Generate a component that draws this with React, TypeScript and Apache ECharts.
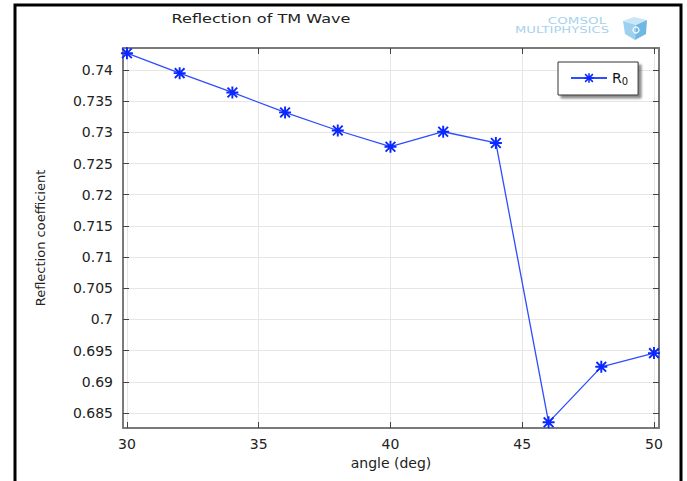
import React, { useEffect, useRef } from "react";
import * as echarts from "echarts";

const angles = [30, 32, 34, 36, 38, 40, 42, 44, 46, 48, 50];
const reflection = [0.7427, 0.7395, 0.7364, 0.7332, 0.7303, 0.7277, 0.7301, 0.7283, 0.6835, 0.6924, 0.6946];
const xTicks = [30, 35, 40, 45, 50];
const yTicks = [0.685, 0.69, 0.695, 0.7, 0.705, 0.71, 0.715, 0.72, 0.725, 0.73, 0.735, 0.74];
const seriesName = "R0";
const titleText = "Reflection of TM Wave";
const xName = "angle (deg)";
const yName = "Reflection coefficient";

const STAR =
  "path://M0 8.4H20V11.6H0Z M8.4 0H11.6V20H8.4Z M3 0.8L19.2 17L17 19.2L0.8 3Z M19.2 3L3 19.2L0.8 17L17 0.8Z";

export default function App() {
  const ref = useRef<HTMLDivElement>(null);
  useEffect(() => {
    if (!ref.current) return;
    const chart = echarts.init(ref.current, null, { renderer: "svg" });
    const font = "DejaVu Sans";
    const axisLineStyle = { color: "#7a7a7a", width: 2 };
    const tickStyle = { color: "#444", width: 1 };
    const fmt = (v: number) => String(+Number(v).toFixed(3));
    chart.setOption({
      animation: false,
      backgroundColor: "#ffffff",
      textStyle: { fontFamily: font },
      grid: { left: 123, right: 28, top: 48, bottom: 53, containLabel: false },
      legend: {
        data: [seriesName],
        left: 558,
        top: 62,
        orient: "vertical",
        itemWidth: 36,
        itemHeight: 12,
        itemGap: 0,
        padding: [9, 10, 9, 12],
        backgroundColor: "#ffffff",
        borderColor: "#333",
        borderWidth: 1,
        borderRadius: 0,
        shadowColor: "rgba(0,0,0,0.45)",
        shadowBlur: 2,
        shadowOffsetX: 3,
        shadowOffsetY: 3,
        formatter: (n: string) => "{r|" + n.charAt(0) + "}{s|" + n.slice(1) + "}",
        textStyle: {
          fontSize: 14,
          color: "#111",
          fontFamily: font,
          rich: {
            r: { fontSize: 14, color: "#111", fontFamily: font },
            s: { fontSize: 10, color: "#111", fontFamily: font, padding: [6, 0, 0, 0] },
          },
        },
      },
      xAxis: [
        {
          type: "value",
          min: 29.85,
          max: 50.19,
          position: "bottom",
          name: xName,
          nameLocation: "middle",
          nameGap: 28,
          nameTextStyle: { fontSize: 14, color: "#222", fontFamily: font },
          axisLine: { show: true, onZero: false, lineStyle: axisLineStyle },
          axisTick: { show: true, inside: true, length: 6, lineStyle: tickStyle, customValues: xTicks },
          axisLabel: { show: true, fontSize: 14, color: "#222", margin: 9, customValues: xTicks, formatter: fmt },
          splitLine: { show: true, lineStyle: { color: "#e6e6e6", width: 1 } },
        },
        {
          type: "value",
          min: 29.85,
          max: 50.19,
          position: "top",
          axisLine: { show: true, onZero: false, lineStyle: axisLineStyle },
          axisTick: { show: true, inside: true, length: 6, lineStyle: tickStyle, customValues: xTicks },
          axisLabel: { show: false },
          splitLine: { show: false },
        },
      ],
      yAxis: [
        {
          type: "value",
          min: 0.68259,
          max: 0.74353,
          position: "left",
          name: yName,
          nameLocation: "middle",
          nameRotate: 90,
          nameGap: 76,
          nameTextStyle: { fontSize: 13, color: "#222", fontFamily: font },
          axisLine: { show: true, onZero: false, lineStyle: axisLineStyle },
          axisTick: { show: true, inside: true, length: 6, lineStyle: tickStyle, customValues: yTicks },
          axisLabel: { show: true, fontSize: 14, color: "#222", margin: 10, customValues: yTicks, formatter: fmt },
          splitLine: { show: true, lineStyle: { color: "#e6e6e6", width: 1 } },
        },
        {
          type: "value",
          min: 0.68259,
          max: 0.74353,
          position: "right",
          axisLine: { show: true, onZero: false, lineStyle: axisLineStyle },
          axisTick: { show: true, inside: true, length: 6, lineStyle: tickStyle, customValues: yTicks },
          axisLabel: { show: false },
          splitLine: { show: false },
        },
      ],
      series: [
        {
          name: seriesName,
          type: "line",
          xAxisIndex: 0,
          yAxisIndex: 0,
          data: angles.map((a, i) => [a, reflection[i]]),
          symbol: STAR,
          symbolSize: 12,
          showAllSymbol: true,
          clip: false,
          lineStyle: { color: "#2d4dff", width: 1.3 },
          itemStyle: { color: "#0a28ff" },
        },
      ],
      graphic: [
        {
          type: "polyline",
          shape: { points: [[15, 481], [15, 5], [681, 5], [681, 481]] },
          style: { stroke: "#000", lineWidth: 3, fill: "none" },
          silent: true,
        },
        {
          type: "text",
          x: 261,
          y: 18,
          scaleX: 1.24,
          style: { text: titleText, fontSize: 13, fontFamily: font, fill: "#222", align: "center", verticalAlign: "middle" },
        },
        {
          type: "text",
          x: 577,
          y: 21,
          scaleX: 1.5,
          style: { text: "COMSOL", fontSize: 9, fontFamily: font, fill: "#a6d2ee", align: "center", verticalAlign: "middle" },
        },
        {
          type: "text",
          x: 562,
          y: 30,
          scaleX: 1.55,
          style: { text: "MULTIPHYSICS", fontSize: 8.5, fontFamily: font, fill: "#a6d2ee", align: "center", verticalAlign: "middle" },
        },
        {
          type: "polygon",
          shape: { points: [[623, 21], [634, 17], [647, 20], [636, 25]] },
          style: { fill: "#c9e6f7" },
        },
        {
          type: "polygon",
          shape: { points: [[623, 21], [636, 25], [635, 40], [625, 34]] },
          style: { fill: "#9dd0ef" },
        },
        {
          type: "polygon",
          shape: { points: [[636, 25], [647, 20], [646, 34], [635, 40]] },
          style: { fill: "#6fb8e6" },
        },
        {
          type: "circle",
          shape: { cx: 636, cy: 30, r: 3 },
          style: { fill: "none", stroke: "#ffffff", lineWidth: 1.2 },
        },
      ],
    });
    return () => chart.dispose();
  }, []);
  return (
    <div
      ref={ref}
      style={{ position: "fixed", left: 0, top: 0, width: 687, height: 481, background: "#fff" }}
    />
  );
}
